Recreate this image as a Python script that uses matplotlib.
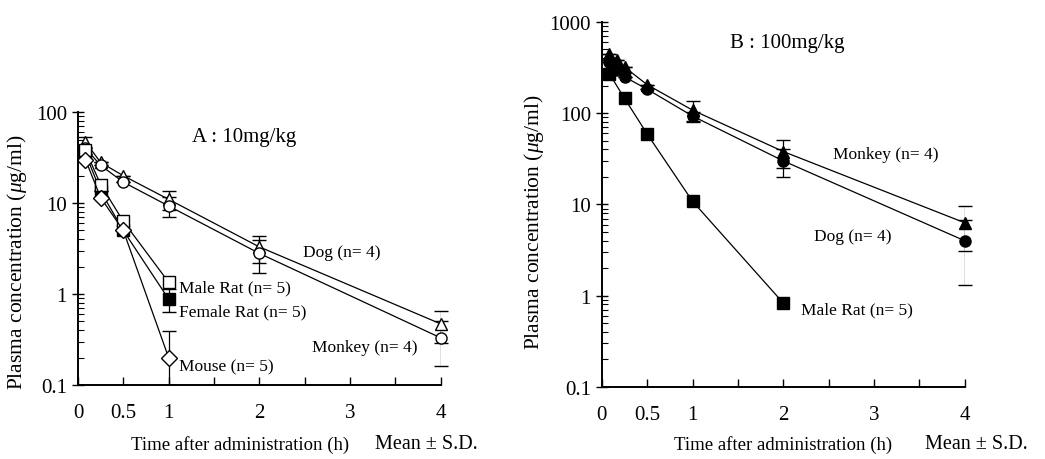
import matplotlib
matplotlib.use("Agg")
import matplotlib.pyplot as plt
import matplotlib.ticker as mticker
import numpy as np

plt.rcParams['font.family'] = ['Liberation Serif', 'DejaVu Serif']
plt.rcParams['mathtext.fontset'] = 'custom'
plt.rcParams['mathtext.it'] = 'Liberation Serif:italic'
plt.rcParams['mathtext.rm'] = 'Liberation Serif'

# ---- Panel A : 10 mg/kg ----
tA = [0.083, 0.25, 0.5, 1, 2, 4]
tA_short = [0.083, 0.25, 0.5, 1]
monkeyA = [47, 28, 20, 11, 3.3, 0.47]
monkeyA_sd = [6, 0, 0, 2.5, 1.1, 0.18]
dogA = [40, 26, 17, 9.3, 2.8, 0.33]
dogA_sd = [0, 0, 0, 2.3, 1.1, 0.17]
maleratA = [38, 16, 6.3, 1.35]
femaleratA = [35, 13.5, 5.0, 0.88]
femaleratA_sd = [0, 0, 0, 0.25]
mouseA = [30, 11.5, 5.0, 0.2]
mouseA_sd = [0, 0, 0, 0.19]

# ---- Panel B : 100 mg/kg ----
tB = [0.083, 0.167, 0.25, 0.5, 1, 2, 4]
tB_rat = [0.083, 0.25, 0.5, 1, 2]
monkeyB = [450, 380, 320, 205, 108, 38, 6.3]
monkeyB_sd = [0, 0, 0, 0, 27, 13, 3.2]
dogB = [360, 300, 250, 183, 93, 30, 4.0]
dogB_sd = [0, 0, 0, 0, 11, 10, 2.7]
maleratB = [270, 145, 59, 10.8, 0.83]

xticks = [0, 0.5, 1, 2, 3, 4]
ylabel = 'Plasma concentration ($\\mathit{\\mu}$g/ml)'


def series(ax, t, y, sd, marker, fill, ms=8):
    yerr = None
    if sd is not None:
        lo = [min(s, v - 0.01) for s, v in zip(sd, y)]
        yerr = [lo, sd]
    c = ax.errorbar(t, y, yerr=yerr, color='black', lw=0.9, marker=marker, ms=ms,
                    mfc=fill, mec='black', mew=1.0, ecolor='black', elinewidth=0.9,
                    capsize=5, capthick=0.9)
    c[0].set_clip_on(False)
    for a in c[1]:
        a.set_clip_on(False)


def style(ax, ymin, ymax):
    ax.set_yscale('log')
    ax.set_xlim(0, 4)
    ax.set_ylim(ymin, ymax)
    ax.spines['top'].set_visible(False)
    ax.spines['right'].set_visible(False)
    ax.spines['left'].set_linewidth(1.4)
    ax.spines['bottom'].set_linewidth(1.4)
    ax.set_xticks(xticks)
    ax.set_xticklabels(['0', '0.5', '1', '2', '3', '4'])
    ax.xaxis.set_minor_locator(mticker.FixedLocator([1.5, 2.5, 3.5]))
    ax.yaxis.set_major_formatter(mticker.FuncFormatter(lambda v, p: ('%g' % v)))
    ax.yaxis.set_minor_locator(mticker.LogLocator(base=10, subs=np.arange(2, 10)))
    ax.yaxis.set_minor_formatter(mticker.NullFormatter())
    ax.tick_params(axis='x', which='both', direction='in', length=6, width=1.0,
                   labelsize=15, pad=13)
    ax.tick_params(axis='y', which='major', direction='inout', length=9, width=1.0,
                   labelsize=15)
    ax.tick_params(axis='y', which='minor', direction='in', length=4, width=0.8)
    ax.set_ylabel(ylabel, fontsize=15.5)


fig = plt.figure(figsize=(10.45, 4.6), dpi=100)
axA = fig.add_axes([0.0746, 0.161, 0.347, 0.593])
axB = fig.add_axes([0.576, 0.157, 0.347, 0.793])

series(axA, tA, monkeyA, monkeyA_sd, '^', 'white', 9)
series(axA, tA, dogA, dogA_sd, 'o', 'white')
series(axA, tA_short, femaleratA, femaleratA_sd, 's', 'black')
series(axA, tA_short, maleratA, None, 's', 'white')
series(axA, tA_short, mouseA, mouseA_sd, 'D', 'white', 8)
style(axA, 0.1, 100)
axA.yaxis.set_label_coords(-0.135, 0.452)

fs = 12.5
axA.text(1.26, 54, 'A : 10mg/kg', fontsize=15, va='center')
axA.text(2.48, 2.9, 'Dog (n= 4)', fontsize=fs, va='center')
axA.text(1.12, 1.19, 'Male Rat (n= 5)', fontsize=fs, va='center')
axA.text(1.12, 0.65, 'Female Rat (n= 5)', fontsize=fs, va='center')
axA.text(1.12, 0.158, 'Mouse (n= 5)', fontsize=fs, va='center')
axA.text(2.58, 0.26, 'Monkey (n= 4)', fontsize=fs, va='center')

series(axB, tB, monkeyB, monkeyB_sd, '^', 'black', 9)
series(axB, tB, dogB, dogB_sd, 'o', 'black')
series(axB, tB_rat, maleratB, None, 's', 'black')
style(axB, 0.1, 1000)
axB.yaxis.set_label_coords(-0.155, 0.453)

axB.text(1.41, 590, 'B : 100mg/kg', fontsize=15, va='center')
axB.text(2.55, 35.7, 'Monkey (n= 4)', fontsize=fs, va='center')
axB.text(2.34, 4.5, 'Dog (n= 4)', fontsize=fs, va='center')
axB.text(2.2, 0.70, 'Male Rat (n= 5)', fontsize=fs, va='center')

for xc in (240, 783):
    fig.text(xc / 1045, 1 - 445 / 460, 'Time after administration (h)',
             fontsize=13.5, ha='center', va='center')
for xm in (375, 925):
    fig.text(xm / 1045, 1 - 445 / 460, 'Mean \u00b1 S.D.', fontsize=14.5, va='center')

fig.savefig('out.png', dpi=100)
